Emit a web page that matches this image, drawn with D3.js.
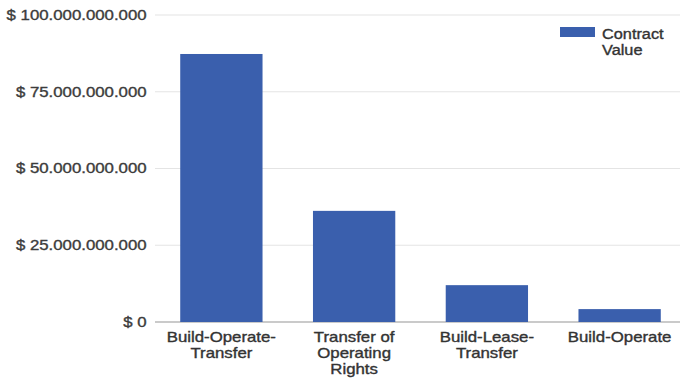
<!DOCTYPE html>
<html>
<head>
<meta charset="utf-8">
<script src="https://cdn.jsdelivr.net/npm/d3@7"></script>
<style>
  html, body { margin: 0; padding: 0; background: #fff; }
  svg { display: block; font-family: "Liberation Sans", Arial, sans-serif; }
  text { paint-order: stroke; stroke-width: 0.35px; }
</style>
</head>
<body>
<svg id="chart" width="680" height="379"></svg>
<script>
// Contract value by PPP contract type
const categories = [
  ["Build-Operate-", "Transfer"],
  ["Transfer of", "Operating", "Rights"],
  ["Build-Lease-", "Transfer"],
  ["Build-Operate"]
];
const contractValues = [87300000000, 36200000000, 12000000000, 4200000000];
const tickValues = [0, 25000000000, 50000000000, 75000000000, 100000000000];
const tickLabels = ["$ 0", "$ 25.000.000.000", "$ 50.000.000.000", "$ 75.000.000.000", "$ 100.000.000.000"];
const seriesName = ["Contract", "Value"];

const barColor = "#3a5fad";
const textColor = "#333";
const fontSize = "14px";
const stretch = 1.2;   // wide lettering
const svg = d3.select("#chart");
const margin = { left: 155, right: -6, top: 15, bottom: 57 };
const W = 680, H = 379;

const x = d3.scaleBand()
  .domain(d3.range(categories.length))
  .range([margin.left, W - margin.right])
  .paddingInner(0.38)
  .paddingOuter(0.19);

const y = d3.scaleLinear()
  .domain([0, 100000000000])
  .range([H - margin.bottom, margin.top]);

// gridlines
svg.append("g")
  .selectAll("line")
  .data(tickValues)
  .join("line")
  .attr("x1", margin.left)
  .attr("x2", W)
  .attr("y1", d => y(d))
  .attr("y2", d => y(d))
  .attr("stroke", d => d === 0 ? "#b8b8b8" : "#e4e4e4")
  .attr("stroke-width", d => d === 0 ? 1.5 : 1.2);

// y axis labels
const yAxis = d3.axisLeft(y)
  .tickValues(tickValues)
  .tickFormat((d, i) => tickLabels[i])
  .tickSize(0)
  .tickPadding(7);
const gy = svg.append("g")
  .attr("transform", `translate(${margin.left},0)`)
  .call(yAxis);
gy.select(".domain").remove();
gy.selectAll("text")
  .attr("fill", "#3c3c3c")
  .attr("stroke", "#3c3c3c")
  .attr("transform", `scale(${stretch},1)`)
  .style("font-size", fontSize)
  .style("font-family", "\"Liberation Sans\", Arial, sans-serif");

// bars
svg.append("g")
  .selectAll("rect")
  .data(contractValues)
  .join("rect")
  .attr("x", (d, i) => x(i))
  .attr("width", x.bandwidth())
  .attr("y", d => y(d))
  .attr("height", d => y(0) - y(d))
  .attr("fill", barColor);

// category labels (multi-line)
categories.forEach((lines, i) => {
  const g = svg.append("g")
    .attr("transform", `translate(${x(i) + x.bandwidth() / 2},${y(0) + 20}) scale(${stretch},1)`);
  const t = g.append("text")
    .attr("text-anchor", "middle")
    .attr("fill", textColor)
    .attr("stroke", textColor)
    .style("font-size", fontSize);
  lines.forEach((ln, j) => {
    t.append("tspan")
      .attr("x", 0)
      .attr("dy", j === 0 ? 0 : 16)
      .text(ln);
  });
});

// legend
const lg = svg.append("g").attr("transform", "translate(560,27)");
lg.append("rect")
  .attr("width", 35)
  .attr("height", 10)
  .attr("fill", barColor);
const lt = lg.append("g")
  .attr("transform", `translate(42,12) scale(${stretch * 0.97},1)`)
  .append("text")
  .attr("fill", textColor)
  .attr("stroke", textColor)
  .style("font-size", fontSize);
seriesName.forEach((s, j) => {
  lt.append("tspan").attr("x", 0).attr("dy", j === 0 ? 0 : 16).text(s);
});
</script>
</body>
</html>
